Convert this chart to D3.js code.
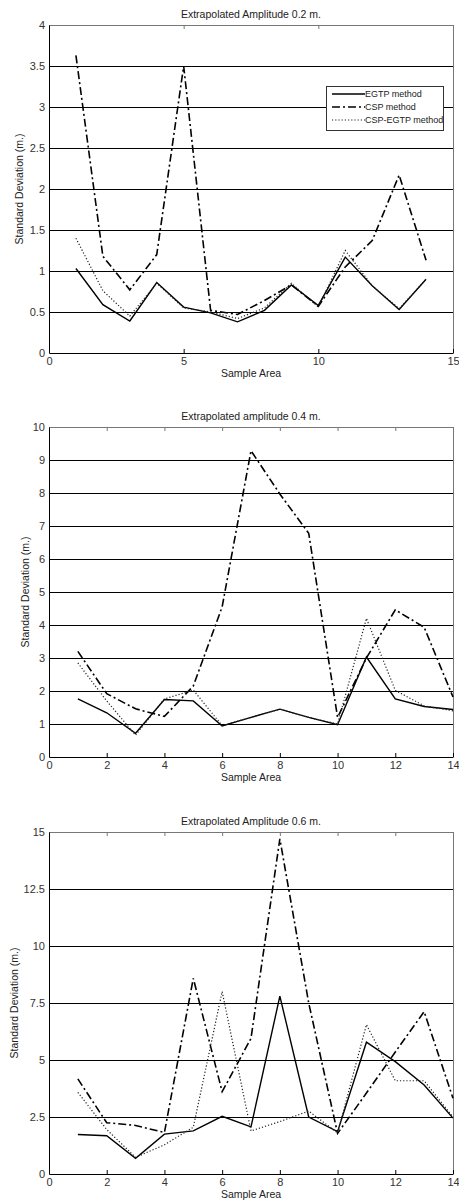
<!DOCTYPE html>
<html>
<head>
<meta charset="utf-8">
<script src="https://cdn.jsdelivr.net/npm/d3@7"></script>
<style>
  body { margin: 0; background: #fff; }
  svg { display: block; font-family: 'Liberation Sans', Arial, sans-serif; }
  .tick text { fill: #333; font-size: 11px; }
</style>
</head>
<body>
<div id="chart"></div>
<script>
// sample areas, same for every panel
const sampleAreas = [1, 2, 3, 4, 5, 6, 7, 8, 9, 10, 11, 12, 13, 14]
const seriesNames = ['EGTP method', 'CSP method', 'CSP-EGTP method']

// amplitude 0.2 m
const egtp02 = [1.03, 0.59, 0.39, 0.86, 0.56, 0.49, 0.38, 0.52, 0.83, 0.58, 1.17, 0.82, 0.53, 0.9]
const csp02 = [3.63, 1.18, 0.77, 1.2, 3.5, 0.52, 0.47, 0.64, 0.83, 0.57, 1.05, 1.37, 2.17, 1.13]
const cspEgtp02 = [1.4, 0.76, 0.45, 0.85, 0.55, 0.5, 0.42, 0.55, 0.85, 0.56, 1.25, 0.82, 0.54, 0.9]

// amplitude 0.4 m
const egtp04 = [1.76, 1.34, 0.72, 1.74, 1.7, 0.94, 1.2, 1.45, 1.2, 0.98, 3.03, 1.76, 1.53, 1.44]
const csp04 = [3.2, 1.92, 1.46, 1.23, 2.15, 4.55, 9.28, 7.97, 6.78, 1.2, 3.0, 4.46, 3.93, 1.82]
const cspEgtp04 = [2.85, 1.7, 0.66, 1.76, 2.03, 0.95, 1.2, 1.45, 1.2, 1.0, 4.2, 2.02, 1.55, 1.4]

// amplitude 0.6 m
const egtp06 = [1.73, 1.68, 0.69, 1.75, 1.89, 2.53, 2.07, 7.8, 2.5, 1.86, 5.78, 4.93, 3.9, 2.45]
const csp06 = [4.17, 2.25, 2.13, 1.82, 8.58, 3.61, 5.95, 14.7, 7.5, 1.78, 3.55, 5.35, 7.12, 3.32]
const cspEgtp06 = [3.58, 1.95, 0.73, 1.28, 2.05, 8.0, 1.89, 2.3, 2.76, 1.8, 6.55, 4.09, 4.09, 2.5]

const panels = [
  {
    title: 'Extrapolated Amplitude 0.2 m.',
    top: 25, bottom: 353, xMax: 15, xTicks: [0, 5, 10, 15],
    yMax: 4, yTicks: [0, 0.5, 1, 1.5, 2, 2.5, 3, 3.5, 4],
    series: [egtp02, csp02, cspEgtp02], legend: true, yLabelX: 19
  },
  {
    title: 'Extrapolated amplitude 0.4 m.',
    top: 427, bottom: 757, xMax: 14, xTicks: [0, 2, 4, 6, 8, 10, 12, 14],
    yMax: 10, yTicks: d3.range(0, 11),
    series: [egtp04, csp04, cspEgtp04], legend: false, yLabelX: 25
  },
  {
    title: 'Extrapolated Amplitude 0.6 m.',
    top: 832, bottom: 1174, xMax: 14, xTicks: [0, 2, 4, 6, 8, 10, 12, 14],
    yMax: 15, yTicks: [0, 2.5, 5, 7.5, 10, 12.5, 15],
    series: [egtp06, csp06, cspEgtp06], legend: false, yLabelX: 14
  }
]

const width = 459
const height = 1201
const left = 49
const right = 453

const lineStyles = [
  { dash: null, width: 1.4, color: '#000' },
  { dash: '8,3,2,3', width: 1.6, color: '#000' },
  { dash: '1.2,2', width: 1.2, color: '#222' }
]

const svg = d3.select('#chart')
  .append('svg')
  .attr('width', width)
  .attr('height', height)

svg.append('rect').attr('width', width).attr('height', height).attr('fill', '#fff')

panels.forEach(p => drawPanel(p))

function drawPanel (p) {
  const x = d3.scaleLinear().domain([0, p.xMax]).range([left, right])
  const y = d3.scaleLinear().domain([0, p.yMax]).range([p.bottom, p.top])
  const g = svg.append('g')

  // horizontal grid lines
  g.append('g')
    .selectAll('line')
    .data(p.yTicks.filter(t => t > 0 && t < p.yMax))
    .join('line')
    .attr('x1', left)
    .attr('x2', right)
    .attr('y1', d => y(d))
    .attr('y2', d => y(d))
    .attr('stroke', '#000')
    .attr('stroke-width', 1)
    .attr('shape-rendering', 'crispEdges')

  // frame: top and right
  g.append('line')
    .attr('x1', left).attr('x2', right).attr('y1', p.top).attr('y2', p.top)
    .attr('stroke', '#777').attr('shape-rendering', 'crispEdges')
  g.append('line')
    .attr('x1', right).attr('x2', right).attr('y1', p.top).attr('y2', p.bottom)
    .attr('stroke', '#777').attr('shape-rendering', 'crispEdges')

  // top ticks, no labels
  g.append('g')
    .attr('transform', `translate(0,${p.top})`)
    .call(d3.axisTop(x).tickValues(p.xTicks).tickSize(-4).tickFormat(''))
    .call(a => a.select('.domain').remove())
    .call(a => a.selectAll('line').attr('stroke', '#777'))

  // bottom axis
  g.append('g')
    .attr('transform', `translate(0,${p.bottom})`)
    .call(d3.axisBottom(x).tickValues(p.xTicks).tickSize(-4).tickSizeOuter(0).tickPadding(4))
    .call(a => a.select('.domain').attr('stroke', '#000'))
    .call(a => a.selectAll('.tick text').attr('font-family', null).attr('font-size', null))

  // left axis
  g.append('g')
    .attr('transform', `translate(${left},0)`)
    .call(d3.axisLeft(y).tickValues(p.yTicks).tickSize(0).tickSizeOuter(0).tickPadding(4).tickFormat(d3.format('')))
    .call(a => a.select('.domain').attr('stroke', '#000'))
    .call(a => a.selectAll('.tick text').attr('font-family', null).attr('font-size', null))

  // title
  g.append('text')
    .attr('x', (left + right) / 2)
    .attr('y', p.top - 7)
    .attr('text-anchor', 'middle')
    .attr('font-size', 10.5)
    .attr('fill', '#222')
    .text(p.title)

  // x label
  g.append('text')
    .attr('x', (left + right) / 2)
    .attr('y', p.bottom + 24)
    .attr('text-anchor', 'middle')
    .attr('font-size', 10.5)
    .attr('fill', '#222')
    .text('Sample Area')

  // y label
  g.append('text')
    .attr('transform', `translate(${p.yLabelX},${(p.top + p.bottom) / 2}) rotate(-90)`)
    .attr('text-anchor', 'middle')
    .attr('dy', '0.35em')
    .attr('font-size', 10.5)
    .attr('fill', '#222')
    .text('Standard Deviation (m.)')

  const line = d3.line()
    .x((d, i) => x(sampleAreas[i]))
    .y(d => y(d))

  p.series.forEach((values, idx) => {
    const s = lineStyles[idx]
    g.append('path')
      .datum(values)
      .attr('d', line)
      .attr('fill', 'none')
      .attr('stroke', s.color)
      .attr('stroke-width', s.width)
      .attr('stroke-dasharray', s.dash)
  })

  if (p.legend) drawLegend(g)
}

function drawLegend (g) {
  const lx = 326
  const ly = 86
  const legend = g.append('g').attr('transform', `translate(${lx},${ly})`)
  legend.append('rect')
    .attr('width', 117)
    .attr('height', 44)
    .attr('fill', '#fff')
    .attr('stroke', '#333')
    .attr('shape-rendering', 'crispEdges')
  seriesNames.forEach((name, idx) => {
    const s = lineStyles[idx]
    const yy = 8 + idx * 13
    legend.append('line')
      .attr('x1', 6).attr('x2', 39)
      .attr('y1', yy).attr('y2', yy)
      .attr('stroke', s.color)
      .attr('stroke-width', s.width)
      .attr('stroke-dasharray', s.dash)
    legend.append('text')
      .attr('x', 39)
      .attr('y', yy)
      .attr('dy', '0.35em')
      .attr('font-size', 9)
      .attr('fill', '#222')
      .text(name)
  })
}
</script>
</body>
</html>
